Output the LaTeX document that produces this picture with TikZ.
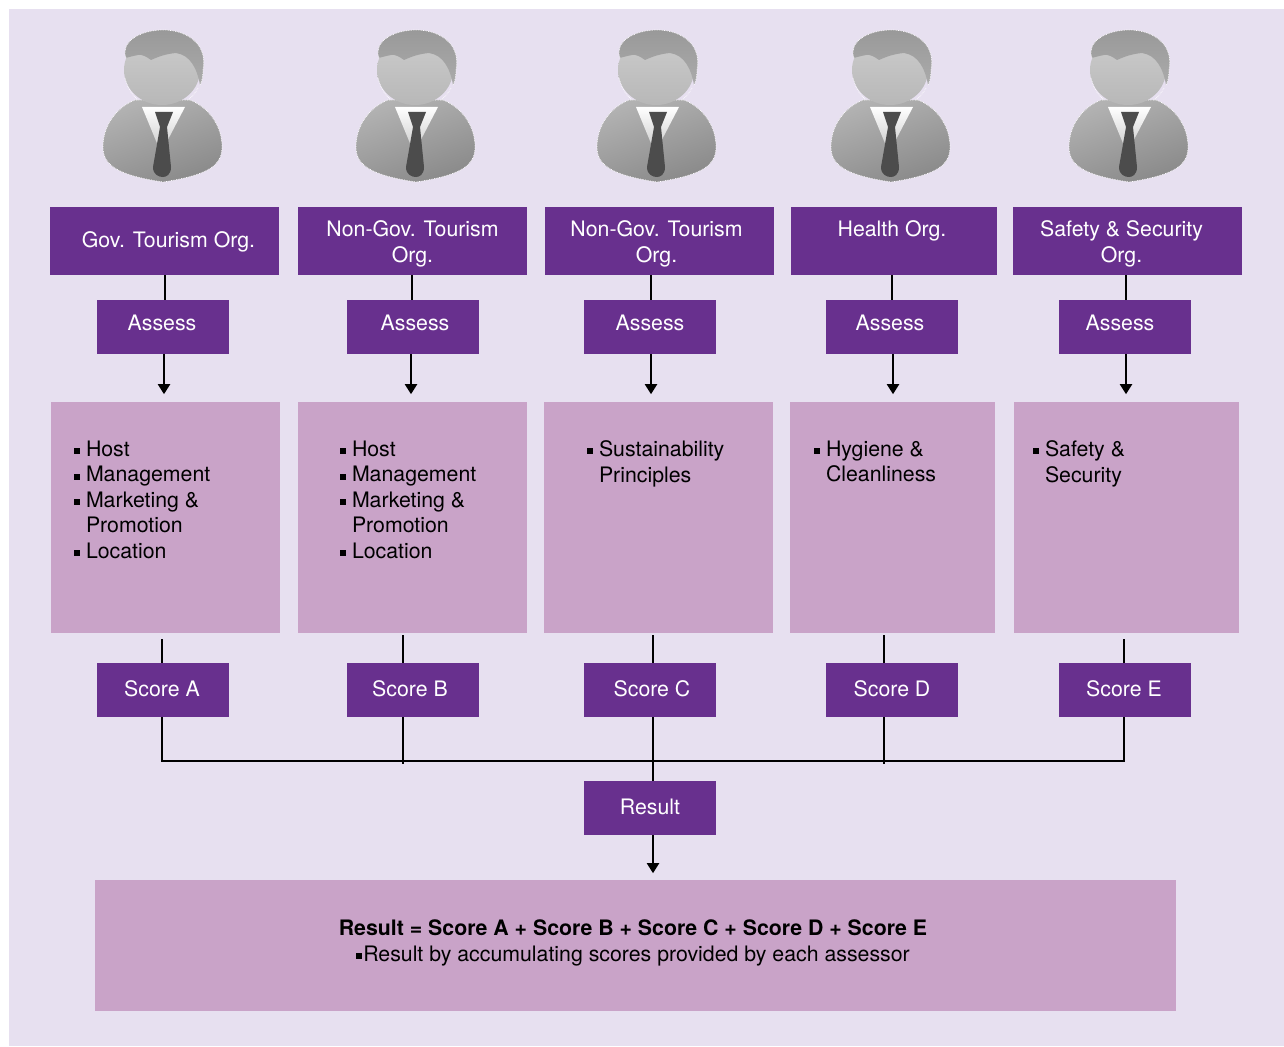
\documentclass[tikz,border=0pt]{standalone}
\usepackage{fontspec}
\setmainfont{TeX Gyre Heros}
\usetikzlibrary{arrows.meta}
\definecolor{bgc}{HTML}{E7E0F0}
\definecolor{purp}{HTML}{68308E}
\definecolor{panelc}{HTML}{C9A3C8}
\newcommand\shft[3]{\raisebox{#2}[0pt][0pt]{\hspace*{#1}\begin{tabular}{@{}c@{}}#3\end{tabular}\hspace*{-#1}}}
\newcommand\sqb{\raisebox{2pt}{\rule{6pt}{6pt}}}
\newcommand\bul[1]{\noindent\llap{\sqb\hspace{6pt}}#1\par}
\newcommand\panelbody[3]{\parbox[c][231pt][t]{#1}{\leftskip=#2\relax\rightskip=0pt plus 1fil\relax\vspace*{38.5pt}#3}}
\tikzset{
  x=1pt,y=-1pt,
  head/.style={fill=purp,text=white,inner sep=0pt,font=\fontsize{21.3}{25.8}\selectfont,minimum height=54pt,minimum width=132pt},
  org/.style={head,minimum height=68pt},
  panel/.style={fill=panelc,text=black,inner sep=0pt,font=\fontsize{21.3}{25.6}\selectfont},
  link/.style={draw=black,line width=2pt},
  flow/.style={link,-{Triangle[width=12pt,length=10pt]}},
  halo/.style={draw=white,line width=.7pt,densely dotted},
  person/.pic={
    \path[halo,left color=black!30,right color=black!46,shading angle=20]
      (-27,100) .. controls (-45,107) and (-59,125) .. (-59,147)
      .. controls (-59,165) and (-45,175) .. (1,182)
      .. controls (47,175) and (60,165) .. (60,147)
      .. controls (60,125) and (46,107) .. (28,100) -- cycle;
    \path[top color=white,bottom color=black!22] (-20,107) -- (23,107) -- (-1,153) -- cycle;
    \path[fill=black!70,line join=round] (-7,112) -- (11,112) -- (5,127) -- (-2,127) -- cycle;
    \path[fill=black!70] (-2,127) -- (5,127) -- (9,167) .. controls (9,175) and (4,177) .. (1,177)
      .. controls (-3,177) and (-9,175) .. (-9,167) -- cycle;
    \path[top color=black!20,bottom color=black!28] (0,70) ellipse [x radius=38, y radius=35];
    \path[top color=black!40,bottom color=black!33]
      (-36,58) .. controls (-42,42) and (-22,30) .. (1,30)
      .. controls (26,30) and (46,45) .. (41,70)
      .. controls (41,76) and (40,82) .. (38,85)
      .. controls (35,68) and (28,55) .. (14,53)
      .. controls (4,54) and (-2,56) .. (-11,60)
      .. controls (-15,57) and (-20,54) .. (-24,55)
      .. controls (-29,56) and (-33,57) .. (-36,58) -- cycle;
    \path[halo] (-36,58) .. controls (-42,42) and (-22,30) .. (1,30)
      .. controls (26,30) and (46,45) .. (41,70)
      .. controls (41,76) and (40,82) .. (38,85);
    \path[halo] (-37,78) .. controls (-34,90) and (-28,97) .. (-24,100);
    \path[halo] (36,88) .. controls (34,92) and (30,97) .. (26,100);
  }
}
\begin{document}
\begin{tikzpicture}
\useasboundingbox (0,0) rectangle (1284,1046);
\fill[white] (0,0) rectangle (1284,1046);
\fill[bgc] (9,9) rectangle (1284,1046);
\foreach \px in {162,415,656,890,1128} \pic at (\px,0) {person};
% organisations
\node[org,minimum width=229pt] (org1) at (164.5,241) {\shft{4pt}{-6.7pt}{Gov. Tourism Org.}};
\node[org,minimum width=229pt] (org2) at (412.5,241) {\shft{0pt}{-8.7pt}{Non-Gov. Tourism\\Org.}};
\node[org,minimum width=229pt] (org3) at (659.5,241) {\shft{-3pt}{-8.7pt}{Non-Gov. Tourism\\Org.}};
\node[org,minimum width=206pt] (org4) at (894,241) {\shft{-2pt}{4.3pt}{Health Org.}};
\node[org,minimum width=229pt] (org5) at (1127.5,241) {\shft{-6pt}{-8.7pt}{Safety \& Security\\Org.}};
% assess
\node[head] (as1) at (163,327) {\shft{-1pt}{-3.7pt}{Assess}};
\node[head] (as2) at (413,327) {\shft{2pt}{-3.7pt}{Assess}};
\node[head] (as3) at (650,327) {\shft{0pt}{-3.7pt}{Assess}};
\node[head] (as4) at (892,327) {\shft{-2pt}{-3.7pt}{Assess}};
\node[head] (as5) at (1125,327) {\shft{-5pt}{-3.7pt}{Assess}};
% criteria
\node[panel] (p1) at (165.5,517.5) {\panelbody{229pt}{35pt}{\bul{Host}\bul{Management}\bul{Marketing \&}Promotion\par\bul{Location}}};
\node[panel] (p2) at (412.5,517.5) {\panelbody{229pt}{54pt}{\bul{Host}\bul{Management}\bul{Marketing \&}Promotion\par\bul{Location}}};
\node[panel] (p3) at (658.5,517.5) {\panelbody{229pt}{55pt}{\bul{Sustainability}Principles\par}};
\node[panel] (p4) at (892.5,517.5) {\panelbody{205pt}{36pt}{\bul{Hygiene \&}Cleanliness\par}};
\node[panel] (p5) at (1126.5,517.5) {\panelbody{225pt}{31pt}{\bul{Safety \&}Security\par}};
% scores
\node[head] (sc1) at (163,690) {\shft{-1pt}{-6.7pt}{Score A}};
\node[head] (sc2) at (413,690) {\shft{-3pt}{-6.7pt}{Score B}};
\node[head] (sc3) at (650,690) {\shft{2pt}{-6.7pt}{Score C}};
\node[head] (sc4) at (892,690) {\shft{0pt}{-6.7pt}{Score D}};
\node[head] (sc5) at (1125,690) {\shft{-1pt}{-6.7pt}{Score E}};
\node[head] (res) at (650,808) {\shft{0pt}{-6.7pt}{Result}};
\node[panel,minimum width=1081pt,minimum height=131pt,align=center] (final) at (635.5,945.5)
  {\shft{-2.5pt}{-3.2pt}{\bfseries Result = Score A + Score B + Score C + Score D + Score E\\
   \sqb\hspace{1pt}\mdseries Result by accumulating scores provided by each assessor}};
% organisation to assess
\draw[link] ([xshift=.5]org1.south) -- ([xshift=2]as1.north);
\draw[link] ([xshift=-.5]org2.south) -- ([xshift=-1]as2.north);
\draw[link] ([xshift=-8.5]org3.south) -- ([xshift=1]as3.north);
\draw[link] ([xshift=-2]org4.south) -- ([xshift=0]as4.north);
\draw[link] ([xshift=-1.5]org5.south) -- ([xshift=1]as5.north);
% assess to criteria
\draw[flow] ([xshift=1]as1.south) -- ++(0,40);
\draw[flow] ([xshift=-2]as2.south) -- ++(0,40);
\draw[flow] ([xshift=1]as3.south) -- ++(0,40);
\draw[flow] ([xshift=1]as4.south) -- ++(0,40);
\draw[flow] ([xshift=1]as5.south) -- ++(0,40);
% criteria to score
\draw[link] ([xshift=-1]sc1.north) -- ++(0,-24);
\draw[link] ([xshift=-10]sc2.north) -- ++(0,-28);
\draw[link] ([xshift=3]sc3.north) -- ++(0,-28);
\draw[link] ([xshift=-8]sc4.north) -- ++(0,-28);
\draw[link] ([xshift=-1]sc5.north) -- ++(0,-24);
% bus
\coordinate (busL) at (162,761);
\coordinate (busR) at (1124,761);
\draw[link,line join=miter] ([xshift=-1]sc1.south) -- (busL) -- (busR) -- ([xshift=-1]sc5.south);
\draw[link] ([xshift=-10]sc2.south) -- ++(0,47);
\draw[link] ([xshift=-8]sc4.south) -- ++(0,47);
\draw[link] ([xshift=3]sc3.south) -- ([xshift=3]res.north);
\draw[flow] ([xshift=3]res.south) -- ++(0,38);
\end{tikzpicture}
\end{document}
